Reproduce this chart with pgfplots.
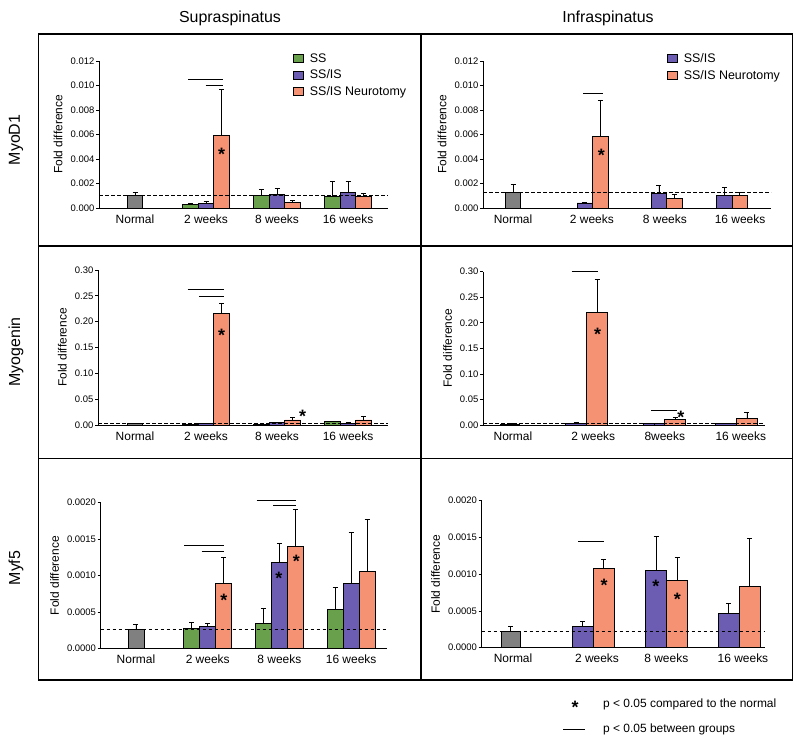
\documentclass[border=0pt]{standalone}
\usepackage{pgfplots}
\pgfplotsset{compat=1.18}
\usepackage{fontspec}
\setmainfont{Liberation Sans}
\definecolor{cSS}{RGB}{104,160,76}
\definecolor{cIS}{RGB}{108,92,178}
\definecolor{cNT}{RGB}{246,146,116}
\definecolor{cN}{RGB}{128,128,128}
\pgfplotsset{
  panel/.style={scale only axis, anchor=south west,
    axis x line*=bottom, axis y line*=left,
    axis line style={line width=0.8bp, black},
    clip=false, ymin=0,
    xtick style={draw=none},
    ytick style={line width=0.8bp, black},
    tick align=outside, major tick length=3bp,
    scaled y ticks=false,
    yticklabel style={font=\fontsize{9.5}{10}\selectfont,
      /pgf/number format/assume math mode=true,
      /pgf/number format/fixed, /pgf/number format/fixed zerofill, inner sep=1.5bp},
    xticklabel style={font=\fontsize{12}{13}\selectfont},
    ylabel={Fold difference}, ylabel shift=3bp,
    ylabel style={font=\fontsize{12}{13}\selectfont},
    legend style={draw=none, fill=none, font=\fontsize{12.5}{13}\selectfont,
      anchor=north west, inner sep=0pt, row sep=2bp, column sep=4bp},
    legend cell align=left},
  bars/.style={ybar, bar shift=0pt, bar width=#1, draw=black, line width=0.8bp,
    error bars/y dir=plus, error bars/y explicit,
    error bars/error mark=-,
    error bars/error bar style={line width=0.8bp, black, solid},
    error bars/error mark options={line width=0.8bp, black, mark size=2.5bp, rotate=90},
    legend image code/.code={\draw[##1, draw=black, line width=0.8bp] (0bp,-4bp) rectangle (10bp,4bp);}},
  sig/.style={black, line width=1bp, forget plot},
  refl/.style={black, line width=0.8bp, dash pattern=on 3.5bp off 2.5bp, forget plot},
}
\newcommand{\sigstar}[2]{\node[font=\fontsize{18}{18}\selectfont\bfseries, inner sep=0pt, anchor=base, yshift=-10.3bp] at (axis cs:#1,#2) {*};}
\begin{document}
\begin{tikzpicture}[x=1bp, y=1bp]
\path[use as bounding box] (0,0) rectangle (800,-742);
% frame
\draw[line width=1.2bp] (38.3,-34) rectangle (792.7,-680);
\draw[line width=1.2bp] (421,-34) -- (421,-680);
\draw[line width=1.2bp] (38.3,-246) -- (792.7,-246);
\draw[line width=1.2bp] (38.3,-458.5) -- (792.7,-458.5);
% titles
\node[font=\fontsize{16}{18}\selectfont] at (230,-18) {Supraspinatus};
\node[font=\fontsize{16}{18}\selectfont] at (608,-18) {Infraspinatus};
\node[font=\fontsize{16}{18}\selectfont, rotate=90] at (16,-140) {MyoD1};
\node[font=\fontsize{16}{18}\selectfont, rotate=90] at (16,-352) {Myogenin};
\node[font=\fontsize{16}{18}\selectfont, rotate=90] at (16,-568) {Myf5};
% footnote
\node[font=\fontsize{18}{18}\selectfont\bfseries, inner sep=0pt, anchor=base] at (575,-713.3) {*};
\node[font=\fontsize{12}{13}\selectfont, anchor=west, inner sep=0pt] at (603,-704) {p < 0.05 compared to the normal};
\draw[line width=1bp] (563,-729) -- (585,-729);
\node[font=\fontsize{12}{13}\selectfont, anchor=west, inner sep=0pt] at (603,-729) {p < 0.05 between groups};

% ---------- Panel 1: MyoD1 Supraspinatus
\begin{axis}[panel, at={(99bp,-208bp)}, width=289bp, height=147bp,
  xmin=-0.507, xmax=3.563, ymax=0.012,
  ytick={0,0.002,0.004,0.006,0.008,0.010,0.012},
  yticklabel style={/pgf/number format/precision=3},
  xtick={0,1,2,3}, xticklabels={Normal,2 weeks,8 weeks,16 weeks},
  legend style={at={(0.671,1.065)}}]
\addplot[bars=0.221, fill=cSS] coordinates {(0.779,0.00028) +- (0,0.0001) (1.779,0.00103) +- (0,0.0005) (2.779,0.00092) +- (0,0.00125)};
\addlegendentry{SS}
\addplot[bars=0.221, fill=cIS] coordinates {(1,0.00038) +- (0,0.00014) (2,0.00111) +- (0,0.0005) (3,0.0013) +- (0,0.00085)};
\addlegendentry{SS/IS}
\addplot[bars=0.221, fill=cNT] coordinates {(1.221,0.0059) +- (0,0.0038) (2.221,0.00046) +- (0,0.00016) (3.221,0.00092) +- (0,0.0003)};
\addlegendentry{SS/IS Neurotomy}
\addplot[bars=0.221, fill=cN, forget plot] coordinates {(0,0.00106) +- (0,0.00024)};
\addplot[refl] coordinates {(-0.507,0.00105) (3.563,0.00105)};
\addplot[sig] coordinates {(0.75,0.0105) (1.235,0.0105)};
\addplot[sig] coordinates {(0.996,0.00999) (1.235,0.00999)};
\sigstar{1.221}{0.00475}
\end{axis}

% ---------- Panel 2: MyoD1 Infraspinatus
\begin{axis}[panel, at={(483bp,-208bp)}, width=288bp, height=147bp,
  xmin=-0.411, xmax=3.534, ymax=0.012,
  ytick={0,0.002,0.004,0.006,0.008,0.010,0.012},
  yticklabel style={/pgf/number format/precision=3},
  xtick={0,1.08,2.08,3.11}, xticklabels={Normal,2 weeks,8 weeks,16 weeks},
  legend style={at={(0.638,1.065)}}]
\addplot[bars=0.212, fill=cIS] coordinates {(0.984,0.00041) +- (0,0.00008) (1.999,0.00122) +- (0,0.0006) (2.894,0.00106) +- (0,0.00062)};
\addlegendentry{SS/IS}
\addplot[bars=0.212, fill=cNT] coordinates {(1.196,0.00584) +- (0,0.00298) (2.211,0.00081) +- (0,0.00028) (3.106,0.001) +- (0,0.0003)};
\addlegendentry{SS/IS Neurotomy}
\addplot[bars=0.212, fill=cN, forget plot] coordinates {(0,0.00128) +- (0,0.00067)};
\addplot[refl] coordinates {(-0.411,0.00128) (3.534,0.00128)};
\addplot[sig] coordinates {(0.96,0.00937) (1.237,0.00937)};
\sigstar{1.21}{0.00467}
\end{axis}

% ---------- Panel 3: Myogenin Supraspinatus
\begin{axis}[panel, at={(98bp,-425bp)}, width=290bp, height=155bp,
  xmin=-0.521, xmax=3.563, ymax=0.30,
  ytick={0,0.05,0.10,0.15,0.20,0.25,0.30},
  yticklabel style={/pgf/number format/precision=2},
  xtick={0,1,2,3}, xticklabels={Normal,2 weeks,8 weeks,16 weeks}]
\addplot[bars=0.221, fill=cSS, forget plot] coordinates {(0.779,0.0012) +- (0,0.0005) (1.779,0.0015) +- (0,0.0005) (2.779,0.0062) +- (0,0.0008)};
\addplot[bars=0.221, fill=cIS, forget plot] coordinates {(1,0.0025) +- (0,0.0006) (2,0.0045) +- (0,0.0008) (3,0.0035) +- (0,0.0008)};
\addplot[bars=0.221, fill=cNT, forget plot] coordinates {(1.221,0.216) +- (0,0.019) (2.221,0.0097) +- (0,0.0046) (3.221,0.0097) +- (0,0.006)};
\addplot[bars=0.221, fill=cN, forget plot] coordinates {(0,0.0025) +- (0,0.0006)};
\addplot[refl] coordinates {(-0.521,0.0026) (3.563,0.0026)};
\addplot[sig] coordinates {(0.74,0.2617) (1.26,0.2617)};
\addplot[sig] coordinates {(0.9,0.249) (1.26,0.249)};
\sigstar{1.221}{0.182}
\sigstar{2.362}{0.024}
\end{axis}

% ---------- Panel 4: Myogenin Infraspinatus
\begin{axis}[panel, at={(483bp,-425bp)}, width=282bp, height=153.3bp,
  xmin=-0.41, xmax=3.452, ymax=0.30,
  ytick={0,0.05,0.10,0.15,0.20,0.25,0.30},
  yticklabel style={/pgf/number format/precision=2},
  xtick={0,1.1,2.08,3.12}, xticklabels={Normal,2 weeks,8weeks,16 weeks}]
\addplot[bars=0.288, fill=cIS, forget plot] coordinates {(0.865,0.0035) +- (0,0.0008) (1.936,0.0022) +- (0,0.0005) (2.916,0.0025) +- (0,0.0008)};
\addplot[bars=0.288, fill=cNT, forget plot] coordinates {(1.153,0.220) +- (0,0.0655) (2.224,0.0111) +- (0,0.0045) (3.204,0.0124) +- (0,0.013)};
\addplot[bars=0.27, fill=cN, forget plot] coordinates {(-0.04,0.0018) +- (0,0.0004)};
\addplot[refl] coordinates {(-0.41,0.0026) (3.452,0.0026)};
\addplot[sig] coordinates {(0.804,0.30) (1.168,0.30)};
\addplot[sig, line width=0.6bp] coordinates {(1.89,0.0293) (2.24,0.0293)};
\sigstar{1.16}{0.186}
\sigstar{2.30}{0.0228}
\end{axis}

% ---------- Panel 5: Myf5 Supraspinatus
\begin{axis}[panel, at={(100.7bp,-648.7bp)}, width=286bp, height=146bp,
  xmin=-0.492, xmax=3.496, ymax=0.002,
  ytick={0,0.0005,0.001,0.0015,0.002},
  yticklabel style={/pgf/number format/precision=4},
  xtick={0,1,2,3}, xticklabels={Normal,2 weeks,8 weeks,16 weeks}]
\addplot[bars=0.223, fill=cSS, forget plot] coordinates {(0.777,0.000279) +- (0,0.000077) (1.777,0.000352) +- (0,0.000201) (2.777,0.000543) +- (0,0.000302)};
\addplot[bars=0.223, fill=cIS, forget plot] coordinates {(1,0.000301) +- (0,0.000046) (2,0.001183) +- (0,0.000255) (3,0.00089) +- (0,0.000704)};
\addplot[bars=0.223, fill=cNT, forget plot] coordinates {(1.223,0.0009) +- (0,0.000347) (2.223,0.001397) +- (0,0.000507) (3.223,0.00106) +- (0,0.000712)};
\addplot[bars=0.223, fill=cN, forget plot] coordinates {(0,0.000265) +- (0,0.000064)};
\addplot[refl] coordinates {(-0.492,0.000265) (3.496,0.000265)};
\addplot[sig] coordinates {(0.674,0.00142) (1.227,0.00142)};
\addplot[sig] coordinates {(0.916,0.001329) (1.227,0.001329)};
\addplot[sig] coordinates {(1.683,0.002032) (2.232,0.002032)};
\addplot[sig] coordinates {(1.915,0.001959) (2.232,0.001959)};
\sigstar{1.227}{0.000721}
\sigstar{1.994}{0.001014}
\sigstar{2.236}{0.001251}
\end{axis}

% ---------- Panel 6: Myf5 Infraspinatus
\begin{axis}[panel, at={(481.7bp,-647.7bp)}, width=283.3bp, height=147bp,
  xmin=-0.429, xmax=3.452, ymax=0.002,
  ytick={0,0.0005,0.001,0.0015,0.002},
  yticklabel style={/pgf/number format/precision=4},
  xtick={0,1.15,2.1,3.15}, xticklabels={Normal,2 weeks,8 weeks,16 weeks}]
\addplot[bars=0.288, fill=cIS, forget plot] coordinates {(0.956,0.000286) +- (0,0.000068) (1.961,0.001057) +- (0,0.000453) (2.956,0.000472) +- (0,0.000131)};
\addplot[bars=0.288, fill=cNT, forget plot] coordinates {(1.244,0.001084) +- (0,0.000118) (2.249,0.000912) +- (0,0.000312) (3.244,0.000839) +- (0,0.000644)};
\addplot[bars=0.27, fill=cN, forget plot] coordinates {(-0.03,0.000227) +- (0,0.000059)};
\addplot[refl] coordinates {(-0.429,0.000227) (3.452,0.000227)};
\addplot[sig] coordinates {(0.895,0.001442) (1.25,0.001442)};
\sigstar{1.247}{0.000907}
\sigstar{1.955}{0.000889}
\sigstar{2.25}{0.000717}
\end{axis}
\end{tikzpicture}
\end{document}
